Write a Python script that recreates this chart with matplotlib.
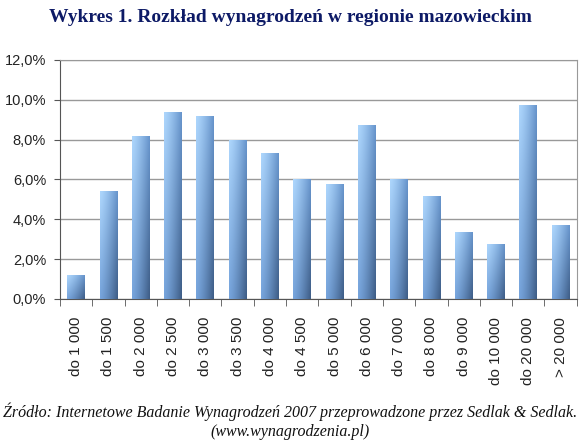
import numpy as np
import matplotlib
matplotlib.use('Agg')
import matplotlib.pyplot as plt
from matplotlib.ticker import FuncFormatter, MultipleLocator

# Dane: przedziały wynagrodzeń i udział procentowy
categories = ['do 1 000', 'do 1 500', 'do 2 000', 'do 2 500', 'do 3 000', 'do 3 500',
              'do 4 000', 'do 4 500', 'do 5 000', 'do 6 000', 'do 7 000', 'do 8 000',
              'do 9 000', 'do 10 000', 'do 20 000', '> 20 000']
shares = [1.2, 5.4, 8.2, 9.4, 9.2, 8.0, 7.35, 6.0, 5.75, 8.75, 6.0, 5.15,
          3.38, 2.78, 9.75, 3.7]

title = 'Wykres 1. Rozkład wynagrodzeń w regionie mazowieckim'
source_1 = 'Źródło: Internetowe Badanie Wynagrodzeń 2007 przeprowadzone przez Sedlak & Sedlak.'
source_2 = '(www.wynagrodzenia.pl)'

plt.rcParams['font.family'] = ['Liberation Sans', 'DejaVu Sans']

fig = plt.figure(figsize=(5.8, 4.44), dpi=100)
ax = fig.add_axes([0.1034, 0.3266, 0.891, 0.5383])

x = np.arange(len(categories))
bars = ax.bar(x, shares, width=0.55, color='#7aa8dc', zorder=3)

# Gradient na słupkach (jasny lewy brzeg, ciemny prawy, ciemniej u dołu)
light_top = np.array([0.68, 0.84, 0.99])
dark_top = np.array([0.40, 0.58, 0.80])
light_bot = np.array([0.46, 0.64, 0.86])
dark_bot = np.array([0.24, 0.36, 0.52])
h = np.linspace(0, 1, 64) ** 1.3
v = np.linspace(0, 1, 64)[:, None, None]
top_row = light_top + (dark_top - light_top) * h[:, None]
bot_row = light_bot + (dark_bot - light_bot) * h[:, None]
grad = top_row[None, :, :] * (1 - v) + bot_row[None, :, :] * v
for b in bars:
    x0, y0 = b.get_x(), b.get_y()
    w, hh = b.get_width(), b.get_height()
    im = ax.imshow(grad, extent=[x0, x0 + w, y0, y0 + hh], aspect='auto',
                   origin='upper', zorder=3, interpolation='bilinear')
    im.set_clip_path(b)

ax.set_xlim(-0.5, len(categories) - 0.5)
ax.set_ylim(0, 12)
ax.yaxis.set_major_locator(MultipleLocator(2))
ax.yaxis.set_major_formatter(FuncFormatter(lambda v, p: f'{v:.1f}%'.replace('.', ',')))

ax.set_xticks(x)
ax.set_xticklabels(categories, rotation=90, fontsize=11, color='#222222')
ax.set_xticks(np.arange(-0.5, len(categories)), minor=True)
ax.tick_params(axis='x', which='major', length=0, pad=13)
ax.tick_params(axis='x', which='minor', length=5, color='#555555', direction='out')
ax.tick_params(axis='y', length=4, color='#555555', labelsize=10.5, labelcolor='#222222', pad=6)

ax.grid(axis='y', color='#999999', linewidth=1, zorder=0)
for s in ['top', 'right']:
    ax.spines[s].set_color('#999999')
for s in ['left', 'bottom']:
    ax.spines[s].set_color('#555555')

fig.text(0.5, 0.96, title, ha='center', va='center', fontsize=14, fontweight='bold',
         family=['Liberation Serif', 'DejaVu Serif'], color='#0d1a66')
fig.text(0.5, 0.072, source_1, ha='center', va='center', fontsize=11.5, style='italic',
         family=['Liberation Serif', 'DejaVu Serif'], color='#111111')
fig.text(0.5, 0.027, source_2, ha='center', va='center', fontsize=11.5, style='italic',
         family=['Liberation Serif', 'DejaVu Serif'], color='#111111')

fig.savefig('out.png', dpi=100)
